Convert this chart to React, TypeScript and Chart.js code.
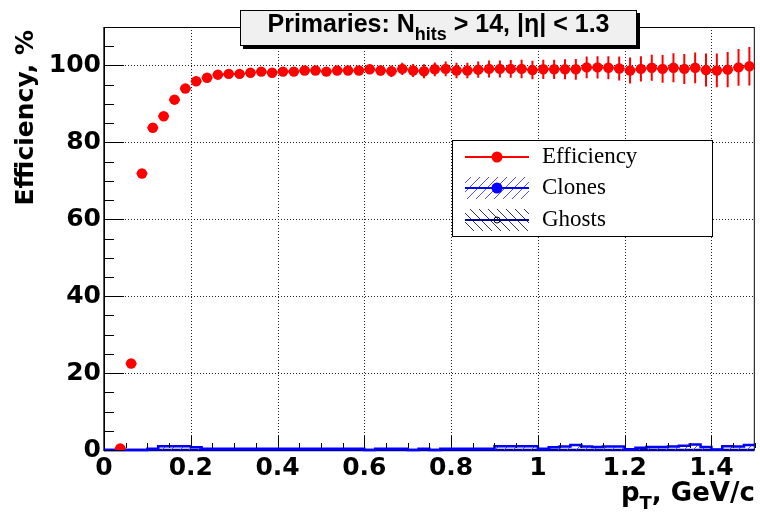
import React, { useEffect, useRef } from "react";
import { Chart, registerables } from "chart.js";

Chart.register(...registerables);

// ---------------- data ----------------
const binWidth = 0.025;
const xMin = 0;
const xMax = 1.5;
const yMin = 0;
const yMax = 110;

const xTickValues = [0, 0.2, 0.4, 0.6, 0.8, 1.0, 1.2, 1.4];
const yTickValues = [0, 20, 40, 60, 80, 100];

const binCenters = [
  0.0125, 0.0375, 0.0625, 0.0875, 0.1125, 0.1375, 0.1625, 0.1875, 0.2125, 0.2375,
  0.2625, 0.2875, 0.3125, 0.3375, 0.3625, 0.3875, 0.4125, 0.4375, 0.4625, 0.4875,
  0.5125, 0.5375, 0.5625, 0.5875, 0.6125, 0.6375, 0.6625, 0.6875, 0.7125, 0.7375,
  0.7625, 0.7875, 0.8125, 0.8375, 0.8625, 0.8875, 0.9125, 0.9375, 0.9625, 0.9875,
  1.0125, 1.0375, 1.0625, 1.0875, 1.1125, 1.1375, 1.1625, 1.1875, 1.2125, 1.2375,
  1.2625, 1.2875, 1.3125, 1.3375, 1.3625, 1.3875, 1.4125, 1.4375, 1.4625, 1.4875,
];

const efficiency: (number | null)[] = [
  null, 0.4, 22.5, 71.9, 83.8, 86.8, 91.1, 94.0, 95.9, 96.8,
  97.6, 97.8, 97.8, 98.1, 98.4, 98.1, 98.4, 98.4, 98.7, 98.7,
  98.4, 98.7, 98.7, 98.7, 99.0, 98.7, 98.5, 99.1, 98.7, 98.5,
  99.0, 99.1, 98.7, 98.7, 98.9, 99.1, 99.1, 99.1, 99.1, 98.8,
  99.0, 99.0, 99.0, 99.0, 99.5, 99.5, 99.4, 99.2, 98.7, 99.1,
  99.4, 99.1, 99.4, 99.1, 99.4, 98.8, 98.7, 98.9, 99.5, 99.8,
];

const efficiencyErr = [
  0, 0.3, 0.9, 1.0, 0.9, 0.8, 0.7, 0.6, 0.6, 0.6,
  0.6, 0.6, 0.6, 0.7, 0.7, 0.7, 0.8, 0.8, 0.8, 0.9,
  0.9, 1.0, 1.1, 1.1, 1.2, 1.4, 1.5, 1.6, 1.7, 1.8,
  1.8, 1.9, 2.0, 2.0, 2.1, 2.2, 2.2, 2.3, 2.4, 2.4,
  2.5, 2.5, 2.6, 2.7, 2.8, 2.9, 3.0, 3.1, 3.4, 3.3,
  3.4, 3.6, 3.8, 3.9, 4.0, 4.3, 4.4, 4.6, 4.8, 5.0,
];

const clones = [
  0, 0, 0, 0, 0.3, 1.0, 1.0, 1.0, 0.7, 0.3,
  0.3, 0.3, 0.3, 0.3, 0.3, 0.3, 0.3, 0.3, 0.3, 0.3,
  0.3, 0.3, 0.3, 0.3, 0, 0.3, 0.3, 0.3, 0, 0.3,
  0, 0.3, 0.3, 0.3, 0.3, 0.3, 1.0, 1.0, 1.0, 1.0,
  0.3, 0.7, 0.9, 1.3, 0.9, 0.8, 0.9, 0.9, 0.2, 0.6,
  0.8, 0.8, 0.9, 1.1, 1.4, 0.8, 0.1, 1.0, 0.9, 1.3,
];

const ghosts = [
  0, 0, 0, 0, 0, 0, 0, 0, 0, 0,
  0, 0, 0, 0, 0, 0, 0, 0, 0, 0,
  0, 0, 0, 0, 0, 0, 0, 0, 0, 0,
  0, 0, 0, 0, 0, 0, 0, 0, 0, 0,
  0, 0, 0, 0, 0, 0, 0, 0, 0, 0,
  0, 0, 0, 0, 0, 0, 0, 0, 0, 0,
];

const seriesNames = ["Efficiency", "Clones", "Ghosts"];
const titleMain = "Primaries: N";
const titleSub = "hits";
const titleRest = " > 14, |\u03B7| < 1.3";
const yTitle = "Efficiency, %";
const xTitleMain = "p";
const xTitleSub = "T";
const xTitleRest = ", GeV/c";

// ---------------- styles ----------------
const RED = "#ff0000";
const BLUE = "#0000ff";
const NAVY = "#000099";
const TICK_FONT = "DejaVu Sans";

function histPoints(values: number[]) {
  const pts = values.map((v, i) => ({ x: binCenters[i] - binWidth / 2, y: v }));
  pts.push({ x: binCenters[binCenters.length - 1] + binWidth / 2, y: values[values.length - 1] });
  return pts;
}

function makeHatch(ctx: CanvasRenderingContext2D, color: string, forward: boolean) {
  const s = 9;
  const c = document.createElement("canvas");
  c.width = s;
  c.height = s;
  const g = c.getContext("2d")!;
  g.strokeStyle = color;
  g.lineWidth = 1;
  g.beginPath();
  if (forward) {
    g.moveTo(0, s); g.lineTo(s, 0);
    g.moveTo(-s, s); g.lineTo(s, -s);
    g.moveTo(0, 2 * s); g.lineTo(2 * s, 0);
  } else {
    g.moveTo(0, 0); g.lineTo(s, s);
    g.moveTo(-s, 0); g.lineTo(s, 2 * s);
    g.moveTo(0, -s); g.lineTo(2 * s, s);
  }
  g.stroke();
  return ctx.createPattern(c, "repeat") as CanvasPattern;
}

function fmtTick(v: number) {
  return String(Number(v.toFixed(2)));
}

export default function App() {
  const ref = useRef<HTMLCanvasElement | null>(null);

  useEffect(() => {
    const canvas = ref.current!;
    const ctx0 = canvas.getContext("2d")!;
    const bluePattern = makeHatch(ctx0, "#4d4dff", true);
    const blackPattern = makeHatch(ctx0, "#333333", false);

    const rootPlugin = {
      id: "rootStyle",
      beforeDatasetsDraw(chart: any) {
        const { ctx, chartArea: a } = chart;
        const sx = chart.scales.x;
        const sy = chart.scales.y;
        ctx.save();
        // dotted grid
        ctx.strokeStyle = "#222";
        ctx.lineWidth = 1;
        ctx.setLineDash([1, 2]);
        ctx.beginPath();
        for (const v of xTickValues) {
          if (v === xMin) continue;
          const px = Math.round(sx.getPixelForValue(v)) + 0.5;
          ctx.moveTo(px, a.top);
          ctx.lineTo(px, a.bottom);
        }
        for (const v of yTickValues) {
          if (v === yMin) continue;
          const py = Math.round(sy.getPixelForValue(v)) + 0.5;
          ctx.moveTo(a.left, py);
          ctx.lineTo(a.right, py);
        }
        ctx.stroke();
        ctx.setLineDash([]);
        // frame
        ctx.strokeStyle = "#000";
        ctx.lineWidth = 1;
        ctx.strokeRect(a.left + 0.5, a.top + 0.5, a.right - a.left - 1, a.bottom - a.top - 1);
        ctx.strokeStyle = "#555";
        ctx.beginPath();
        ctx.moveTo(a.left - 0.5, a.top);
        ctx.lineTo(a.left - 0.5, a.bottom + 1);
        ctx.stroke();
        // error bars
        ctx.beginPath();
        ctx.rect(a.left, a.top, a.right - a.left, a.bottom - a.top);
        ctx.clip();
        ctx.strokeStyle = RED;
        ctx.lineWidth = 2;
        ctx.beginPath();
        binCenters.forEach((c, i) => {
          const v = efficiency[i];
          if (v == null) return;
          const e = efficiencyErr[i];
          const px = sx.getPixelForValue(c);
          const py = sy.getPixelForValue(v);
          ctx.moveTo(sx.getPixelForValue(c - binWidth / 2), py);
          ctx.lineTo(sx.getPixelForValue(c + binWidth / 2), py);
          ctx.moveTo(px, sy.getPixelForValue(v + e));
          ctx.lineTo(px, sy.getPixelForValue(v - e));
        });
        ctx.stroke();
        ctx.restore();
      },
      afterDatasetsDraw(chart: any) {
        const { ctx, chartArea: a } = chart;
        const sx = chart.scales.x;
        const sy = chart.scales.y;
        ctx.save();
        ctx.strokeStyle = "#000";
        ctx.lineWidth = 1;
        ctx.beginPath();
        // x ticks
        for (let v = xMin; v <= xMax + 1e-9; v += 0.05) {
          const major = Math.abs(v / 0.2 - Math.round(v / 0.2)) < 1e-6;
          const px = Math.round(sx.getPixelForValue(v)) + 0.5;
          ctx.moveTo(px, a.bottom - 2);
          ctx.lineTo(px, a.bottom - (major ? 14 : 7));
        }
        // y ticks
        for (let v = yMin; v <= yMax + 1e-9; v += 5) {
          const major = v % 20 === 0;
          const py = Math.round(sy.getPixelForValue(v)) + 0.5;
          ctx.moveTo(a.left, py);
          ctx.lineTo(a.left + (major ? 20 : 10), py);
        }
        ctx.stroke();
        ctx.restore();
      },
      afterDraw(chart: any) {
        const { ctx, chartArea: a } = chart;
        ctx.save();
        // ---- legend ----
        const lx = 452, ly = 140, lw = 260, lh = 96;
        ctx.fillStyle = "#fff";
        ctx.fillRect(lx, ly, lw, lh);
        ctx.strokeStyle = "#000";
        ctx.lineWidth = 1;
        ctx.strokeRect(lx + 0.5, ly + 0.5, lw, lh);
        const rows = [157, 188, 220];
        const sx0 = 465, sx1 = 529, sxc = 497;
        // efficiency
        ctx.strokeStyle = RED; ctx.lineWidth = 2;
        ctx.beginPath(); ctx.moveTo(sx0, rows[0]); ctx.lineTo(sx1, rows[0]); ctx.stroke();
        ctx.fillStyle = RED;
        ctx.beginPath(); ctx.arc(sxc, rows[0], 5.5, 0, Math.PI * 2); ctx.fill();
        // clones
        ctx.fillStyle = bluePattern;
        ctx.fillRect(sx0, rows[1] - 11, sx1 - sx0, 22);
        ctx.strokeStyle = BLUE; ctx.lineWidth = 2;
        ctx.beginPath(); ctx.moveTo(sx0, rows[1]); ctx.lineTo(sx1, rows[1]); ctx.stroke();
        ctx.fillStyle = BLUE;
        ctx.beginPath(); ctx.arc(sxc, rows[1], 5.5, 0, Math.PI * 2); ctx.fill();
        // ghosts
        ctx.fillStyle = blackPattern;
        ctx.fillRect(sx0, rows[2] - 11, sx1 - sx0, 22);
        ctx.strokeStyle = NAVY; ctx.lineWidth = 2;
        ctx.beginPath(); ctx.moveTo(sx0, rows[2]); ctx.lineTo(sx1, rows[2]); ctx.stroke();
        ctx.strokeStyle = "#000"; ctx.lineWidth = 1;
        ctx.beginPath(); ctx.arc(sxc, rows[2], 3, 0, Math.PI * 2); ctx.stroke();
        // texts
        ctx.fillStyle = "#000";
        ctx.font = "23px 'Liberation Serif'";
        ctx.textBaseline = "middle";
        ctx.textAlign = "left";
        seriesNames.forEach((n, i) => ctx.fillText(n, 542, rows[i]));

        // ---- title box ----
        const tx = 240, ty = 10, tw = 397, th = 36;
        ctx.fillStyle = "#000";
        ctx.fillRect(tx + 3, ty + th, tw, 3);
        ctx.fillRect(tx + tw, ty + 3, 3, th);
        ctx.fillStyle = "#f0f0f0";
        ctx.fillRect(tx, ty, tw, th);
        ctx.strokeStyle = "#000";
        ctx.lineWidth = 1;
        ctx.strokeRect(tx + 0.5, ty + 0.5, tw - 1, th - 1);
        ctx.textBaseline = "alphabetic";
        ctx.fillStyle = "#000";
        const TF = "bold 25px 'Liberation Sans'";
        const TSF = "bold 18px 'Liberation Sans'";
        ctx.font = TF;
        const w1 = ctx.measureText(titleMain).width;
        const w3 = ctx.measureText(titleRest).width;
        ctx.font = TSF;
        const w2 = ctx.measureText(titleSub).width;
        let cx = tx + tw / 2 - (w1 + w2 + w3) / 2;
        const tb = 32;
        ctx.font = TF;
        ctx.fillText(titleMain, cx, tb);
        cx += w1;
        ctx.font = TSF;
        ctx.fillText(titleSub, cx, tb + 8);
        cx += w2;
        ctx.font = TF;
        ctx.fillText(titleRest, cx, tb);

        // ---- x axis title ----
        const XF = `bold 26px '${TICK_FONT}'`;
        const XSF = `bold 18px '${TICK_FONT}'`;
        ctx.font = XF;
        const xw1 = ctx.measureText(xTitleMain).width;
        const xw3 = ctx.measureText(xTitleRest).width;
        ctx.font = XSF;
        const xw2 = ctx.measureText(xTitleSub).width;
        let xx = a.right - (xw1 + xw2 + xw3);
        const xb = 501;
        ctx.font = XF;
        ctx.fillText(xTitleMain, xx, xb);
        xx += xw1;
        ctx.font = XSF;
        ctx.fillText(xTitleSub, xx, xb + 8);
        xx += xw2;
        ctx.font = XF;
        ctx.fillText(xTitleRest, xx, xb);

        // ---- y axis title ----
        ctx.save();
        ctx.translate(33, a.top + 3);
        ctx.rotate(-Math.PI / 2);
        ctx.textAlign = "right";
        ctx.font = `bold 25px '${TICK_FONT}'`;
        ctx.fillText(yTitle, 0, 0);
        ctx.restore();

        ctx.restore();
      },
    };

    const tickFont = { family: TICK_FONT, weight: "bold" as const, size: 25 };

    const chart = new Chart(canvas, {
      type: "scatter",
      data: {
        datasets: [
          {
            label: seriesNames[0],
            data: binCenters.map((c, i) => ({ x: c, y: efficiency[i] as any })),
            showLine: false,
            pointRadius: 5.2,
            pointBackgroundColor: RED,
            pointBorderWidth: 0,
            backgroundColor: RED,
            borderColor: RED,
          } as any,
          {
            type: "line",
            label: seriesNames[1],
            data: histPoints(clones),
            showLine: true,
            stepped: "before",
            fill: "origin",
            backgroundColor: bluePattern,
            borderColor: BLUE,
            borderWidth: 2.5,
            pointRadius: 0,
            clip: { left: 0, right: 0, top: 0, bottom: 2 },
          } as any,
          {
            type: "line",
            label: seriesNames[2],
            data: histPoints(ghosts),
            showLine: true,
            stepped: "before",
            fill: "origin",
            backgroundColor: blackPattern,
            borderColor: NAVY,
            borderWidth: 2.5,
            pointRadius: 0,
            clip: { left: 0, right: 0, top: 0, bottom: 2 },
          } as any,
        ],
      },
      options: {
        animation: false,
        responsive: false,
        devicePixelRatio: 1,
        events: [],
        layout: { padding: { left: 0, right: 5, top: 27, bottom: 0 } },
        plugins: {
          legend: { display: false },
          tooltip: { enabled: false },
          title: { display: false },
        },
        scales: {
          x: {
            type: "linear",
            min: xMin,
            max: xMax,
            afterBuildTicks: (s: any) => {
              s.ticks = xTickValues.map((v) => ({ value: v }));
            },
            afterFit: (s: any) => {
              s.height = 66;
            },
            grid: { display: false, drawTicks: false },
            border: { display: false },
            ticks: {
              autoSkip: false,
              maxRotation: 0,
              padding: 3,
              color: "#000",
              font: tickFont,
              callback: (v: any) => fmtTick(Number(v)),
            },
          },
          y: {
            type: "linear",
            min: yMin,
            max: yMax,
            afterBuildTicks: (s: any) => {
              s.ticks = yTickValues.map((v) => ({ value: v }));
            },
            afterFit: (s: any) => {
              s.width = 104;
            },
            grid: { display: false, drawTicks: false },
            border: { display: false },
            ticks: {
              autoSkip: false,
              padding: 3,
              color: "#000",
              font: tickFont,
              callback: (v: any) => fmtTick(Number(v)),
            },
          },
        },
      } as any,
      plugins: [rootPlugin as any],
    });

    return () => chart.destroy();
  }, []);

  return (
    <div style={{ position: "fixed", left: 0, top: 0, width: 760, height: 516, background: "#fff" }}>
      <canvas ref={ref} width={760} height={516} style={{ display: "block" }} />
    </div>
  );
}
